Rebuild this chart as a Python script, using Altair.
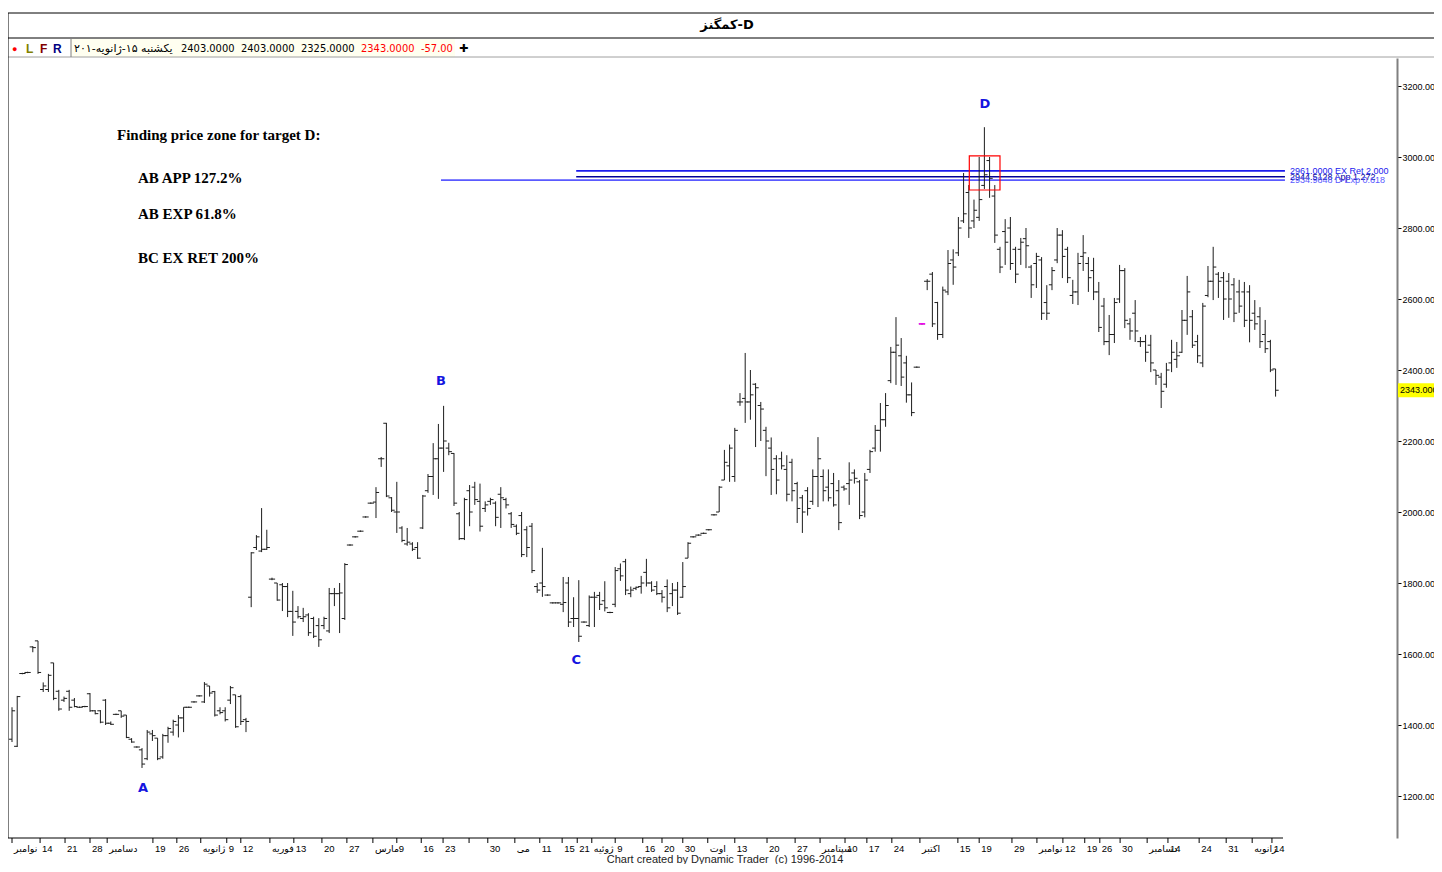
import altair as alt
import pandas as pd

# ---------------- data (daily OHLC) ----------------
highs = [1450,1482,1547,1550,1622,1637,1520,1544,1575,1499,1480,1499,1476,1452,1454,1490,1442,1442,1473,1410,
         1432,1440,1428,1363,1340,1335,1386,1386,1363,1375,1395,1415,1428,1450,1452,1467,1484,1521,1510,1496,
         1450,1450,1510,1485,1485,1420,
         1887,1935,2011,1950,1815,1800,1800,1800,1778,1735,1730,1715,1705,1701,1705,1786,1786,1800,1856,1909,
         1932,1948,1988,2027,2070,2155,2251,2042,2085,1960,1955,1915,1915,2048,2107,2194,2248,2299,2195,2166,
         2000,2040,2076,2085,2080,2030,2040,2030,2070,2040,2000,1965,2000,1960,1969,1800,1899,
         1768,1746,1746,1817,1817,1760,1808,1692,1765,1775,1775,1805,1719,1845,1855,1868,1790,1790,1820,1868,
         1805,1805,1780,1810,1800,1803,1859,1915,1932,1937,1942,1952,1994,2073,2175,2190,2237,2335,2448,2400,
         2363,2310,2240,2210,2160,2170,2160,2150,2085,2048,2070,2120,2211,2120,
         2120,2110,2090,2075,2140,2120,2090,2110,2175,2245,2307,2335,2465,2549,2490,2440,2365,2410,2532,2656,
         2676,2592,2635,2738,2740,2831,2955,2921,2880,3000,3084,3000,2921,2747,2825,2831,2747,2772,2800,2696,
         2730,2718,2639,2690,2800,
         2794,2747,2654,2730,2780,2718,2716,2648,2603,2555,2603,2696,2687,2546,2597,2493,2499,2499,2400,2392,
         2420,2485,2479,2569,2665,2569,2499,2589,2693,2747,2676,2676,2673,2659,2654,2648,2639,2597,2577,2541,
         2485,2403]
lows = [1352,1338,1543,1546,1605,1544,1493,1493,1470,1440,1465,1440,1450,1448,1450,1437,1430,1405,1400,1400,
        1428,1420,1363,1350,1336,1279,1301,1355,1301,1305,1350,1370,1365,1380,1448,1463,1480,1462,1480,1424,
        1430,1410,1459,1392,1400,1380,
        1732,1893,1887,1893,1808,1750,1721,1704,1651,1700,1690,1651,1645,1620,1670,1659,1735,1659,1696,1905,
        1928,1944,1984,2023,1983,2127,2042,2000,1941,1915,1905,1890,1868,1952,2054,2048,2037,2113,2160,2017,
        1921,1921,1960,2020,1945,2000,2020,1960,1955,2010,1955,1935,1873,1873,1828,1772,1761,
        1764,1742,1742,1718,1676,1676,1634,1688,1676,1676,1724,1720,1715,1732,1806,1766,1760,1780,1770,1790,
        1775,1766,1745,1718,1735,1710,1758,1870,1928,1933,1938,1948,1990,2000,2090,2085,2085,2299,2251,2260,
        2183,2200,2101,2048,2050,2120,2030,2030,1969,1941,1990,2020,2014,2030,
        2030,2015,1949,2060,2020,2080,1980,1985,2110,2170,2170,2240,2363,2358,2355,2308,2270,2406,2528,2625,
        2521,2485,2490,2611,2640,2721,2814,2772,2800,2820,2910,2885,2758,2673,2696,2682,2645,2696,2687,2603,
        2631,2541,2541,2625,2701,
        2659,2645,2586,2583,2679,2620,2597,2507,2470,2442,2476,2589,2518,2485,2479,2465,2423,2394,2358,2293,
        2350,2394,2406,2448,2499,2462,2420,2408,2605,2597,2603,2541,2547,2535,2561,2521,2478,2513,2462,2448,
        2394,2325]
opens = [1360,1340,1545,1548,1620,1637,1500,1500,1575,1495,1470,1495,1470,1450,1452,1488,1440,1440,1470,1405,
         1430,1440,1428,1360,1338,1330,1305,1375,1363,1310,1370,1380,1400,1420,1450,1465,1482,1465,1510,1494,
         1440,1440,1470,1485,1480,1415,
         1760,1900,1890,1895,1811,1800,1795,1790,1720,1720,1700,1710,1700,1680,1680,1665,1770,1770,1700,1907,
         1930,1946,1986,2025,2028,2150,2250,2040,2000,1955,1910,1910,1900,1955,2060,2100,2150,2180,2180,2165,
         1995,1925,2060,2070,2030,2010,2030,2025,2050,2035,1995,1960,1990,1950,1960,1790,1800,
         1766,1744,1744,1740,1800,1700,1700,1690,1680,1760,1765,1750,1717,1740,1840,1860,1770,1785,1790,1830,
         1800,1790,1770,1790,1770,1780,1760,1870,1930,1935,1940,1950,1992,2000,2090,2130,2100,2310,2320,2310,
         2360,2300,2230,2180,2150,2150,2120,2140,2080,2040,2060,2030,2100,2100,
         2070,2080,2060,2070,2080,2110,2085,2000,2120,2180,2230,2260,2370,2450,2440,2420,2330,2408,2530,2650,
         2670,2590,2500,2620,2710,2730,2820,2900,2820,2830,2920,2990,2890,2740,2790,2800,2740,2740,2770,2690,
         2700,2710,2590,2640,2710,
         2780,2740,2610,2620,2720,2700,2680,2620,2580,2480,2500,2600,2680,2530,2560,2480,2480,2470,2400,2380,
         2360,2420,2430,2450,2540,2550,2480,2420,2610,2650,2670,2660,2650,2640,2620,2620,2620,2560,2550,2500,
         2480,2403]
closes = [1440,1480,1545,1548,1618,1548,1510,1540,1475,1445,1475,1450,1452,1450,1452,1440,1432,1408,1405,1402,
          1430,1425,1365,1352,1338,1290,1380,1370,1305,1370,1390,1410,1420,1450,1450,1465,1482,1515,1490,1428,
          1435,1415,1505,1395,1410,1410,
          1885,1930,1895,1900,1811,1752,1790,1720,1690,1705,1705,1660,1650,1640,1700,1770,1770,1772,1852,1907,
          1930,1946,1986,2025,2055,2150,2045,2005,2000,1920,1915,1895,1870,2045,2100,2150,2180,2200,2170,2025,
          1925,2035,2000,2035,1960,2020,2035,1985,2040,2020,1965,1940,1880,1900,1835,1780,1790,
          1766,1744,1744,1745,1690,1700,1650,1690,1760,1760,1740,1730,1717,1835,1820,1780,1780,1788,1800,1800,
          1780,1770,1760,1730,1780,1715,1790,1912,1930,1935,1940,1950,1992,2070,2140,2180,2230,2310,2310,2330,
          2350,2290,2200,2120,2090,2130,2050,2060,2010,2000,2010,2100,2150,2060,
          2040,2020,1970,2065,2090,2095,1990,2090,2170,2230,2260,2300,2450,2470,2380,2330,2280,2408,2530,2650,
          2530,2500,2625,2700,2690,2800,2840,2800,2850,2880,2950,2940,2780,2690,2760,2700,2670,2760,2750,2640,
          2720,2560,2560,2680,2780,
          2720,2660,2620,2700,2730,2660,2620,2520,2480,2500,2590,2680,2540,2510,2510,2480,2450,2420,2385,2340,
          2400,2450,2440,2540,2620,2470,2440,2580,2650,2690,2650,2600,2600,2560,2580,2540,2540,2530,2480,2460,
          2400,2343]

highlight_day = 175  # bar drawn in magenta

# x-axis (trading-day positions and their labels)
tick_days = [0.0, 5.4, 10.2, 15.0, 18.3, 27.1, 31.7, 36.3, 41.3, 44.0, 49.6, 54.2, 59.6, 64.4, 69.4, 74.0,
             78.7, 82.9, 87.9, 91.5, 96.7, 101.5, 105.8, 108.7, 111.5, 116.0, 121.3, 125.0, 129.0, 133.8,
             139.0, 145.2, 150.6, 155.4, 160.2, 164.4, 169.2, 174.6, 181.9, 186.0, 192.3, 197.1, 202.1,
             206.3, 209.2, 213.1, 218.3, 222.3, 228.3, 233.5, 238.5, 242.3]
tick_text = ["نوامبر", "14", "21", "28", "دسامبر", "19", "26", "ژانویه", "9", "12", "فوریه", "13", "20", "27",
             "مارس", "9", "16", "23", "", "30", "می", "11", "15", "21", "ژوئیه", "9", "16", "20", "30", "اوت",
             "13", "20", "27", "سپتامبر", "10", "17", "24", "اکتبر", "15", "19", "29", "نوامبر", "12", "19",
             "26", "30", "دسامبر", "14", "24", "31", "ژانویه", "14"]

y_tick_values = [1200, 1400, 1600, 1800, 2000, 2200, 2400, 2600, 2800, 3000, 3200]

# Fibonacci price-zone lines
fib_price = [2961.0, 2944.5128, 2934.9848]
fib_text = ["2961.0000 EX Ret 2.000", "2944.5128 App 1.272", "2934.9848 D-Exp 0.618"]
fib_start = [108.5, 108.5, 82.5]
fib_end = [244.8, 244.8, 244.8]

# pattern points
pt_name = ["A", "B", "C", "D"]
pt_day = [25.2, 82.5, 108.5, 187.1]
pt_price = [1222, 2369, 1583, 3149]

# target zone box
zone_day = [184.1, 190.0]
zone_price = [2907, 3003]

notes = ["Finding price zone for target D:", "AB APP 127.2%", "AB EXP 61.8%", "BC EX RET 200%"]

info_date = "یکشنبه ۱۵-ژانویه-۲۰۱"
info_vals = ["2403.0000", "2403.0000", "2325.0000", "2343.0000", "-57.00"]

title_text = "کمگنز-D"
footer_text = "Chart created by Dynamic Trader\u00a0\u00a0(c) 1996-2014"

# ---------------- chart ----------------
W, H = 1389, 780
RIGHT = 1426 - W
SANS = "Liberation Sans, DejaVu Sans"
BAR = "#1c1c1c"

bars = pd.DataFrame({"day": list(range(len(highs))), "high": highs, "low": lows,
                     "open": opens, "close": closes})
xs = alt.Scale(domain=[-0.77, 266.35], nice=False, zero=False)
ys = alt.Scale(domain=[1081.7, 3278.9], nice=False, zero=False)
yaxis = alt.Axis(orient="right", values=y_tick_values, format=".4f", title=None, grid=False,
                 domainColor="#808080", domainWidth=2, tickColor="#000000", tickSize=4, tickWidth=1,
                 labelFont=SANS, labelFontSize=9, labelColor="#000000", labelPadding=1)


def X(f):
    return alt.X(f, type="quantitative", scale=xs, axis=None)


def Y(f):
    return alt.Y(f, type="quantitative", scale=ys, axis=yaxis)


one = pd.DataFrame({"k": [0]})


def hrule(y, x1, x2, color="#000000", w=1):
    return alt.Chart(one).mark_rule(color=color, strokeWidth=w).encode(
        x=alt.value(x1), x2=alt.value(x2), y=alt.value(y))


def vrule(x, y1, y2, color="#000000", w=1):
    return alt.Chart(one).mark_rule(color=color, strokeWidth=w).encode(
        x=alt.value(x), y=alt.value(y1), y2=alt.value(y2))


def label(text, x, y, size=11, color="#000000", font=SANS, weight="normal", align="left",
          baseline="middle"):
    return alt.Chart(one).mark_text(text=text, fontSize=size, color=color, font=font,
                                    fontWeight=weight, align=align, baseline=baseline).encode(
        x=alt.value(x), y=alt.value(y))


layers = []

# window chrome
layers.append(alt.Chart(one).mark_rect(color="#FFFFF0").encode(
    x=alt.value(63), x2=alt.value(447), y=alt.value(-19), y2=alt.value(-1)))
layers += [hrule(-45, 0, W + RIGHT), hrule(-20, 0, W + RIGHT), hrule(-1, 0, W + RIGHT, "#a0a0a0"),
           vrule(0, -45, 780), vrule(63, -19, -1, "#808080")]
layers.append(label(title_text, 719, -33, size=13, weight="bold", align="center",
                    font="DejaVu Sans"))
layers.append(label("●", 4, -9, size=9, color="#ff0000"))
layers.append(label("L", 18, -9, size=12, color="#808000", weight="bold"))
layers.append(label("F", 32, -9, size=12, color="#800000", weight="bold"))
layers.append(label("R", 45, -9, size=12, color="#000080", weight="bold"))
layers.append(label(info_date, 66, -9, size=11, font="DejaVu Sans"))
for v, xp, c in zip(info_vals, [173, 233, 293, 353, 413],
                    ["#000000", "#000000", "#000000", "#ff0000", "#ff0000"]):
    layers.append(label(v, xp, -9, size=11, color=c, font="DejaVu Sans Condensed, DejaVu Sans"))
layers.append(label("✚", 451, -9, size=11, font="DejaVu Sans"))

# x axis
layers.append(hrule(780, 0, 1275, "#000000"))
ticks = pd.DataFrame({"day": tick_days, "txt": tick_text})
layers.append(alt.Chart(ticks).mark_rule(color="#000000").encode(
    x=X("day"), y=alt.value(780), y2=alt.value(785)))
layers.append(alt.Chart(ticks).mark_text(align="left", baseline="middle", dx=2, fontSize=9.5,
                                         font=SANS, color="#000000").encode(
    x=X("day"), y=alt.value(791), text="txt:N"))
layers.append(label(footer_text, 717, 805, size=11, color="#222222", align="center",
                    baseline="alphabetic"))

# fib lines
fib = pd.DataFrame({"start": fib_start, "end": fib_end, "price": fib_price, "txt": fib_text})
fib_colors = alt.Scale(domain=fib_text, range=["#1a1aee", "#00009a", "#5a5aff"])
layers.append(alt.Chart(fib).mark_rule(strokeWidth=1.6).encode(
    x=X("start"), x2="end:Q", y=Y("price"),
    color=alt.Color("txt:N", scale=fib_colors, legend=None)))
layers.append(alt.Chart(fib).mark_text(align="left", baseline="middle", dx=5, fontSize=9,
                                       font=SANS).encode(
    x=X("end"), y=Y("price"), text="txt:N",
    color=alt.Color("txt:N", scale=fib_colors, legend=None)))

# price bars
layers.append(alt.Chart(bars).mark_rule(color=BAR, strokeWidth=1).encode(
    x=X("day"), y=Y("low"), y2="high:Q"))
layers.append(alt.Chart(bars).transform_calculate(xl="datum.day - 0.6").mark_rule(
    color=BAR, strokeWidth=1).encode(x=X("xl"), x2="day:Q", y=Y("open")))
layers.append(alt.Chart(bars).transform_calculate(xr="datum.day + 0.6").mark_rule(
    color=BAR, strokeWidth=1).encode(x=X("day"), x2="xr:Q", y=Y("close")))
layers.append(alt.Chart(bars).transform_filter(f"datum.day == {highlight_day}").transform_calculate(
    xl="datum.day - 0.6", xr="datum.day + 0.6").mark_rule(color="#ff00ff", strokeWidth=1.5).encode(
    x=X("xl"), x2="xr:Q", y=Y("close")))

# target zone box
zone = pd.DataFrame({"d0": [zone_day[0]], "d1": [zone_day[1]], "p0": [zone_price[0]], "p1": [zone_price[1]]})
layers.append(alt.Chart(zone).mark_rect(fillOpacity=0, stroke="#ff0000", strokeWidth=1.2).encode(
    x=X("d0"), x2="d1:Q", y=Y("p0"), y2="p1:Q"))

# pattern letters
pts = pd.DataFrame({"name": pt_name, "day": pt_day, "price": pt_price})
layers.append(alt.Chart(pts).mark_text(fontSize=13, fontWeight="bold", color="#1515e0",
                                       font="DejaVu Sans", baseline="middle").encode(
    x=X("day"), y=Y("price"), text="name:N"))

# notes
for t, xp, yp in zip(notes, [109, 130, 130, 130], [77, 120, 156, 200]):
    layers.append(label(t, xp, yp, size=15, weight="bold", font="Liberation Serif"))

# last price marker on the axis
last = pd.DataFrame({"p": [closes[-1]], "hi": [closes[-1] + 20], "lo": [closes[-1] - 20],
                     "txt": [f"{closes[-1]:.4f}"]})
layers.append(alt.Chart(last).mark_rect(color="#ffff00").encode(
    x=alt.value(1390), x2=alt.value(W + RIGHT), y=Y("hi"), y2="lo:Q"))
layers.append(alt.Chart(last).mark_text(align="left", baseline="middle", fontSize=9, font=SANS,
                                        color="#000000").encode(
    x=alt.value(1392), y=Y("p"), text="txt:N"))

chart = alt.layer(*layers).properties(
    width=W, height=H,
    padding={"left": 0, "right": RIGHT, "top": 50, "bottom": 26},
    autosize=alt.AutoSizeParams(type="none"),
    background="#ffffff",
).configure_view(strokeWidth=0)

chart.save("out.html", embed_options={"renderer": "svg", "actions": False})
